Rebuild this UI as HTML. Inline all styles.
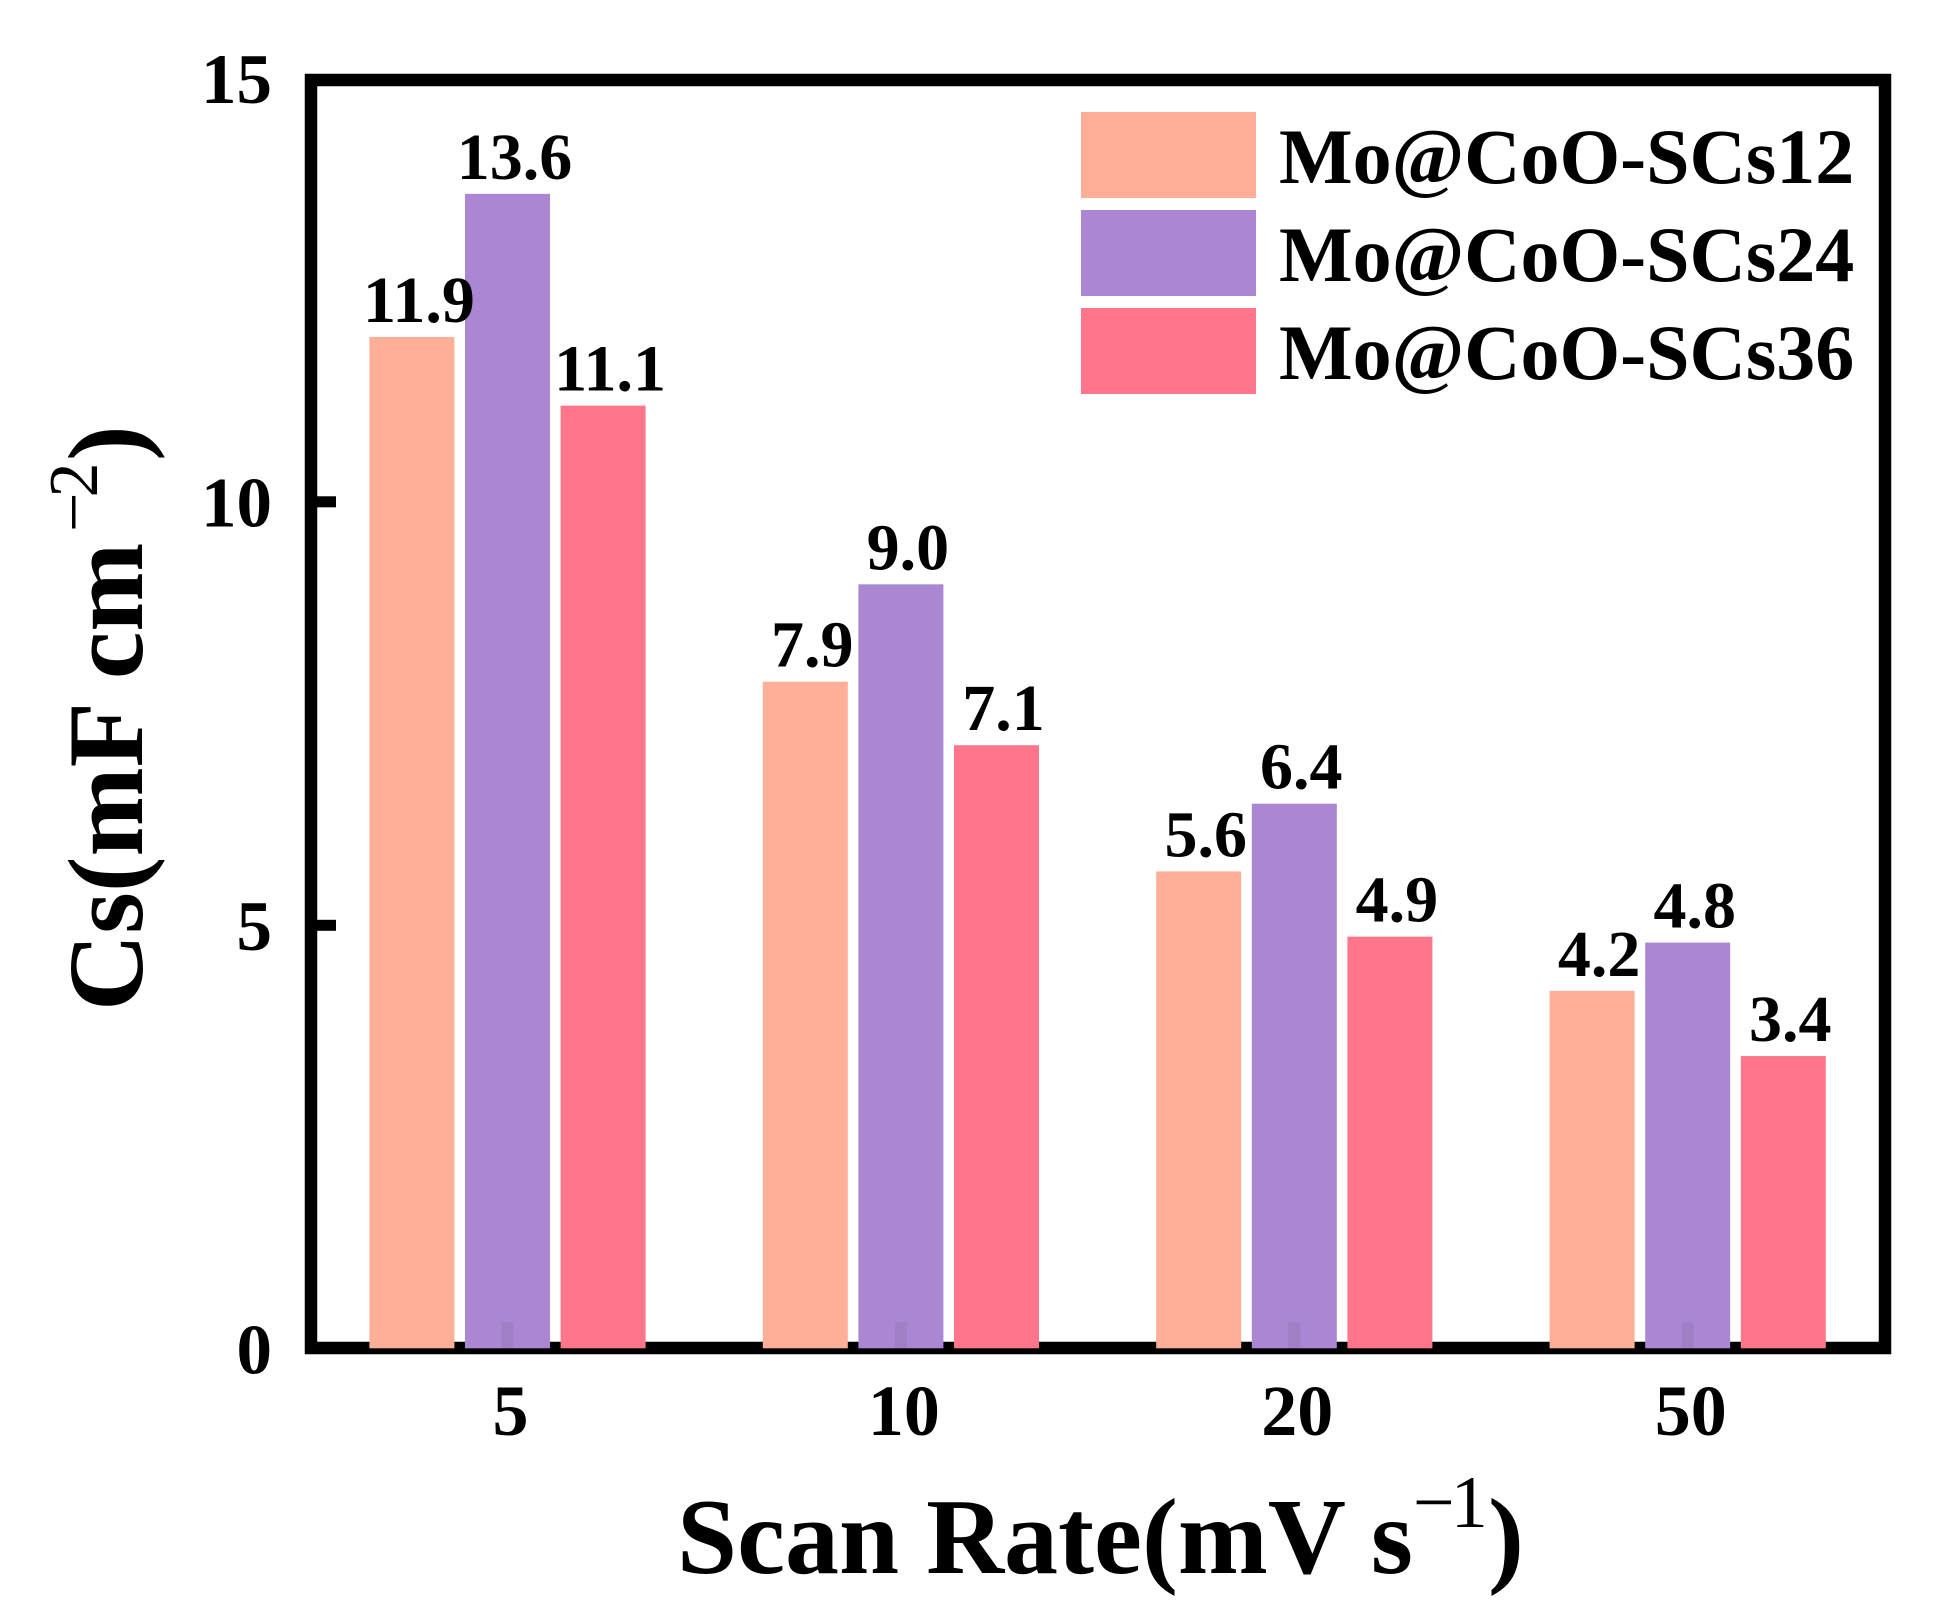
<!DOCTYPE html>
<html lang="en">
<head>
<meta charset="utf-8">
<title>Cs vs Scan Rate</title>
<style>
html,body{margin:0;padding:0;background:#fff;}
svg{display:block;}
text{font-family:"Liberation Serif","Times New Roman",serif;font-weight:700;fill:#000;}
</style>
</head>
<body>
<svg id="chart" xmlns="http://www.w3.org/2000/svg" width="1935" height="1619" viewBox="0 0 1935 1619">
  <rect x="0" y="0" width="1935" height="1619" fill="#fff"/>
  <g id="bars"></g>
  <rect id="frame" x="311" y="80" width="1574" height="1268" fill="none" stroke="#000" stroke-width="12.5"/>
  <g id="overlay"></g>
  <g id="ticks"></g>
  <g id="labels"></g>
  <g id="legend"></g>

  <g>
    <text x="677" y="1573" font-size="108">Scan Rate(mV s</text>
    <text x="1413" y="1527" font-size="74" style="font-weight:400">−<tspan dx="-4">1</tspan></text>
    <text x="1488" y="1573" font-size="108">)</text>
  </g>
  <g transform="translate(142,1011) rotate(-90)">
    <text x="0" y="0" font-size="107">Cs(mF cm</text>
    <text x="479" y="-45" font-size="70" style="font-weight:400">−<tspan dx="-5">2</tspan></text>
    <text x="550" y="0" font-size="107">)</text>
  </g>
</svg>
<script>
const categories = ['5', '10', '20', '50'];
const seriesNames = ['Mo@CoO-SCs12', 'Mo@CoO-SCs24', 'Mo@CoO-SCs36'];
const scs12Values = [11.94, 7.87, 5.63, 4.22];
const scs24Values = [13.63, 9.02, 6.43, 4.79];
const scs36Values = [11.13, 7.12, 4.86, 3.45];
const scs12Printed = ['11.9', '7.9', '5.6', '4.2'];
const scs24Printed = ['13.6', '9.0', '6.4', '4.8'];
const scs36Printed = ['11.1', '7.1', '4.9', '3.4'];
const yTickValues = [0, 5, 10, 15];

const NS = 'http://www.w3.org/2000/svg';
const COLORS = ['#FFAE98', '#AB87D3', '#FF7589'];
const allValues = [scs12Values, scs24Values, scs36Values];
const allPrinted = [scs12Printed, scs24Printed, scs36Printed];

function yScale(v) { return 1348.3 - 84.7 * v; }
function groupCenter(i) { return 507.5 + 393.4 * i; }
function barLeft(g, s) { return groupCenter(g) + (s - 1) * 95.6 - 42.5; }

function make(tag, attrs, parent, txt) {
  const el = document.createElementNS(NS, tag);
  for (const k in attrs) el.setAttribute(k, attrs[k]);
  if (txt !== undefined) el.textContent = txt;
  parent.appendChild(el);
  return el;
}

const gBars = document.getElementById('bars');
const gOverlay = document.getElementById('overlay');
const gTicks = document.getElementById('ticks');
const gLabels = document.getElementById('labels');
const gLegend = document.getElementById('legend');

categories.forEach(function (cat, g) {
  allValues.forEach(function (vals, s) {
    const top = yScale(vals[g]);
    const bar = make('rect', { x: barLeft(g, s), y: top, width: 85, height: yScale(0) - top, fill: COLORS[s] }, gOverlay);
    
    

    const lab = make('text', { x: barLeft(g, s) + 42.5 + 7, y: top - 15, 'font-size': 66, 'text-anchor': 'middle' }, gLabels, allPrinted[s][g]);
    
    
  });

  const xTick = make('rect', { x: groupCenter(g) - 6, y: yScale(0) - 26, width: 12, height: 26, fill: '#000', 'fill-opacity': 0.06 }, gTicks);
  
  

  const xLab = make('text', { x: groupCenter(g) + 3, y: 1435, 'font-size': 72, 'text-anchor': 'middle' }, gTicks, cat);
  
  
});

yTickValues.forEach(function (t) {
  const y = yScale(t);
  if (t > 0 && t < 15) {
    const tick = make('rect', { x: 317, y: y - 5, width: 19, height: 11, fill: '#000' }, gTicks);
    
    
  }
  const lab = make('text', { x: 272, y: y + 25, 'font-size': 71, 'text-anchor': 'end' }, gTicks, String(t));
  
  
});

seriesNames.forEach(function (name, i) {
  const entry = make('g', {}, gLegend);
  
  
  const sw = make('rect', { x: 1081, y: 112 + i * 98, width: 175, height: 86, fill: COLORS[i] }, entry);
  
  
  const tx = make('text', { x: 1279, y: 183 + i * 98, 'font-size': 78 }, entry, name);
  
  
});
</script>
</body>
</html>
